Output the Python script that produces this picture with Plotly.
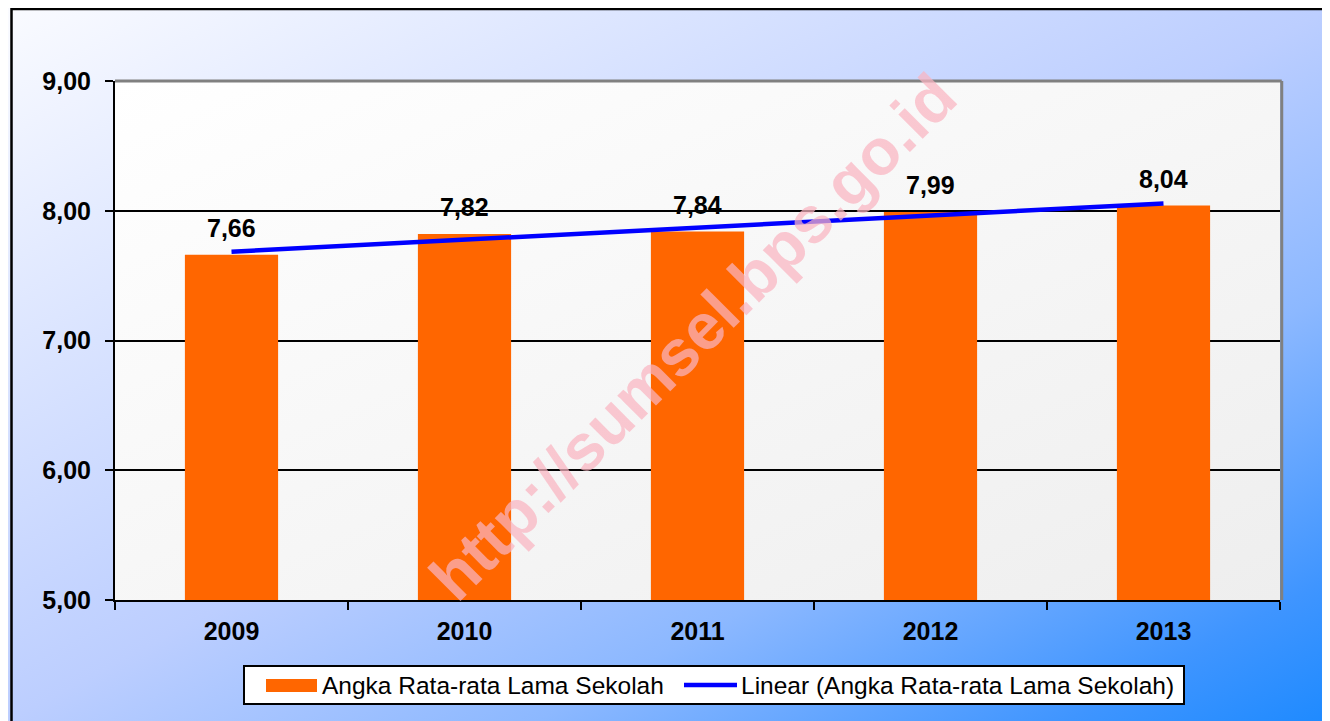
import base64
import numpy as np
import plotly.graph_objects as go

# ---- data ----
years = ["2009", "2010", "2011", "2012", "2013"]
values = [7.66, 7.82, 7.84, 7.99, 8.04]
y_ticks = [5, 6, 7, 8, 9]
y_tick_labels = ["5,00", "6,00", "7,00", "8,00", "9,00"]
bar_name = "Angka Rata-rata Lama Sekolah"
trend_name = "Linear (Angka Rata-rata Lama Sekolah)"
watermark = "http://sumsel.bps.go.id"

# linear trend (least squares, as the spreadsheet trendline)
xi = np.arange(len(values))
slope, intercept = np.polyfit(xi, values, 1)
trend = list(slope * xi + intercept)

# page body has an 8px margin -> figure drawn 8px right/down
OFF = 8
FW, FH = 1330 - OFF, 721 - OFF
L, T = 107, 73
PW, PH = 1165, 519
R, B = FW - L - PW, FH - T - PH


def ref2paper(x, y):
    """reference-screenshot pixel -> paper coords"""
    fx, fy = x - OFF, y - OFF
    return (fx - L) / PW, (T + PH - fy) / PH


def svg_gradient(stops):
    st = "".join(f'<stop offset="{o}" stop-color="{c}"/>' for o, c in stops)
    svg = ('<svg xmlns="http://www.w3.org/2000/svg" width="100" height="100" preserveAspectRatio="none">'
           '<defs><linearGradient id="g" x1="0" y1="0" x2="1" y2="1">' + st +
           '</linearGradient></defs><rect width="100" height="100" fill="url(#g)"/></svg>')
    return "data:image/svg+xml;base64," + base64.b64encode(svg.encode()).decode()


paper_grad = svg_gradient([(0, "#fafbff"), (0.5, "#bcceff"), (0.7, "#8cb8ff"), (0.9, "#3f95ff"), (1, "#1e8aff")])
plot_grad = svg_gradient([(0, "#ffffff"), (1, "#eeeeee")])

FONT = "Liberation Sans, Arial, sans-serif"

fig = go.Figure()
fig.add_trace(go.Bar(x=years, y=values, name=bar_name, width=0.4, showlegend=False,
                     marker=dict(color="#ff6600", line=dict(width=0))))
fig.add_trace(go.Scatter(x=years, y=trend, name=trend_name, mode="lines", showlegend=False,
                         line=dict(color="#0000ff", width=4.5)))

annotations = []
for i, v in enumerate(values):
    annotations.append(dict(x=i, y=v, xref="x", yref="y", text=f"{v:.2f}".replace(".", ","),
                            showarrow=False, yanchor="middle", yshift=27,
                            font=dict(family=FONT, size=25, color="black", weight="bold")))
wx, wy = ref2paper(692, 337)
annotations.append(dict(x=wx, y=wy, xref="paper", yref="paper", text=watermark, showarrow=False,
                        textangle=-45, font=dict(family=FONT, size=65, color="rgba(250,180,192,0.72)",
                                                 weight="bold")))

# full-figure background gradient and plot-area gradient
x0p, y0p = ref2paper(OFF, OFF)
x1p, y1p = ref2paper(OFF + FW, OFF + FH)
images = [
    dict(source=paper_grad, xref="paper", yref="paper", x=x0p, y=y0p, sizex=x1p - x0p, sizey=y0p - y1p,
         xanchor="left", yanchor="top", sizing="stretch", layer="below"),
    dict(source=plot_grad, xref="paper", yref="paper", x=0, y=1, sizex=1, sizey=1,
         xanchor="left", yanchor="top", sizing="stretch", layer="below"),
]

shapes = []
# outer frame (left and top)
fx0, fy0 = ref2paper(11.5, 9)
fx1, fy1 = ref2paper(1400, 800)
shapes.append(dict(type="rect", xref="paper", yref="paper", x0=fx0, y0=fy1, x1=fx1, y1=fy0,
                   line=dict(color="black", width=2.5), fillcolor="rgba(0,0,0,0)", layer="above"))
# plot-area top and right border (grey)
shapes.append(dict(type="line", xref="paper", yref="paper", x0=0, x1=1.0015, y0=1, y1=1,
                   line=dict(color="#808080", width=3), layer="above"))
shapes.append(dict(type="line", xref="paper", yref="paper", x0=1.0015, x1=1.0015, y0=0, y1=1,
                   line=dict(color="#808080", width=3), layer="above"))

# custom legend
lbx0, lby0 = ref2paper(244, 666)
lbx1, lby1 = ref2paper(1184, 704)
shapes.append(dict(type="rect", xref="paper", yref="paper", x0=lbx0, y0=lby1, x1=lbx1, y1=lby0,
                   line=dict(color="black", width=2), fillcolor="white", layer="above"))
ox0, oy0 = ref2paper(266, 679)
ox1, oy1 = ref2paper(317, 692)
shapes.append(dict(type="rect", xref="paper", yref="paper", x0=ox0, y0=oy1, x1=ox1, y1=oy0,
                   line=dict(width=0), fillcolor="#ff6600", layer="above"))
bl0, bly = ref2paper(684, 685)
bl1, _ = ref2paper(737, 685)
shapes.append(dict(type="line", xref="paper", yref="paper", x0=bl0, x1=bl1, y0=bly, y1=bly,
                   line=dict(color="#0000ff", width=4.5), layer="above"))
t1x, t1y = ref2paper(320, 685)
t2x, _ = ref2paper(739, 685)
annotations.append(dict(x=t1x, y=t1y, xref="paper", yref="paper", text=bar_name, showarrow=False,
                        xanchor="left", yanchor="middle", font=dict(family=FONT, size=24.5, color="black")))
annotations.append(dict(x=t2x, y=t1y, xref="paper", yref="paper", text=trend_name, showarrow=False,
                        xanchor="left", yanchor="middle", font=dict(family=FONT, size=24.5, color="black")))

fig.update_layout(
    width=FW, height=FH,
    margin=dict(l=L, r=R, t=T, b=B, pad=0),
    paper_bgcolor="rgba(0,0,0,0)",
    plot_bgcolor="rgba(0,0,0,0)",
    images=images, shapes=shapes, annotations=annotations,
    showlegend=False,
    xaxis=dict(type="category", range=[-0.5, 4.5], tickson="boundaries", ticks="outside", ticklen=8,
               tickwidth=2, tickcolor="black", showline=True, linecolor="black", linewidth=2,
               showgrid=False, ticklabelstandoff=8,
               tickfont=dict(family=FONT, size=25, color="black", weight="bold"), fixedrange=True),
    yaxis=dict(range=[5, 9], tickvals=y_ticks, ticktext=y_tick_labels, ticks="outside", ticklen=8,
               tickwidth=2, tickcolor="black", showline=True, linecolor="black", linewidth=2,
               showgrid=True, gridcolor="black", gridwidth=2, zeroline=False, ticklabelstandoff=9,
               tickfont=dict(family=FONT, size=25, color="black", weight="bold"), fixedrange=True),
)

fig.write_html("out.html")
